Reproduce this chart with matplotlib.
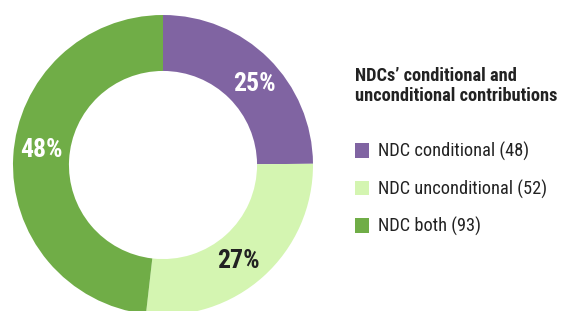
import matplotlib
matplotlib.use("Agg")
import matplotlib.pyplot as plt
from matplotlib.patches import Rectangle
import numpy as np

# data
labels = ["NDC conditional", "NDC unconditional", "NDC both"]
counts = [48, 52, 93]
colors = ["#8064A2", "#D4F5B1", "#70AD47"]
pct_colors = ["white", "#222222", "white"]
title_lines = ["NDCs\u2019 conditional and", "unconditional contributions"]

plt.rcParams["font.family"] = ["Roboto Condensed", "DejaVu Sans"]

fig = plt.figure(figsize=(5.61, 3.11), dpi=100)
W, H = 561, 311

# donut
ax = fig.add_axes([13 / W, (H - 315) / H, 300 / W, 300 / H])
wedges, texts, autotexts = ax.pie(
    counts, colors=colors, startangle=90, counterclock=False,
    autopct="%1.0f%%", pctdistance=0.815, radius=1,
    wedgeprops=dict(width=0.373, linewidth=0),
)
# labels sit a little clockwise of the wedge middle in the original
rot = np.deg2rad(-4)
for t, c in zip(autotexts, pct_colors):
    x, y = t.get_position()
    t.set_position((x * np.cos(rot) - y * np.sin(rot), x * np.sin(rot) + y * np.cos(rot)))
    t.set_color(c)
    t.set_fontsize(18.5)
    t.set_fontweight("bold")
ax.set_xlim(-1, 1)
ax.set_ylim(-1, 1)
ax.axis("off")

# legend (drawn by hand to keep the spacing of the original)
for line, base in zip(title_lines, [80.7, 100.7]):
    fig.text(355 / W, 1 - base / H, line, ha="left", va="baseline", fontsize=13.2,
             fontweight="bold", color="#222222")

row_base = [157, 194.5, 232]
for lab, n, col, b in zip(labels, counts, colors, row_base):
    fig.patches.append(Rectangle((355 / W, 1 - (b + 0.7) / H), 14 / W, 14.4 / H,
                                 transform=fig.transFigure, facecolor=col,
                                 edgecolor="none"))
    fig.text(378 / W, 1 - b / H, f"{lab} ({n})", ha="left", va="baseline",
             fontsize=13.2, color="#222222")

fig.savefig("out.png")
